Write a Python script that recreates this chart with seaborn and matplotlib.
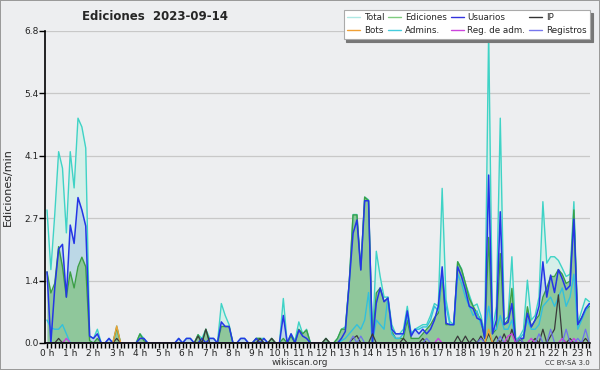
import numpy as np
import pandas as pd
import seaborn as sns
import matplotlib.pyplot as plt
from matplotlib.lines import Line2D
from matplotlib.ticker import FixedLocator, MultipleLocator

# Data: edits per minute, one value every 10 minutes (00:00 .. 23:20)
total = [
    2.9, 1.6, 2.8, 4.17, 3.81, 2.4,
    4.17, 3.38, 4.9, 4.71, 4.25, 0.15,
    0.1, 0.3, 0, 0, 0.1, 0,
    0.37, 0, 0, 0, 0, 0,
    0.2, 0.1, 0, 0, 0, 0,
    0, 0, 0, 0, 0.1, 0,
    0.1, 0.1, 0, 0.18, 0.1, 0.3,
    0.1, 0.1, 0, 0.86, 0.6, 0.4,
    0, 0, 0.1, 0.1, 0, 0,
    0.1, 0.1, 0.1, 0, 0.1, 0,
    0, 0.97, 0, 0.2, 0.05, 0.46,
    0.2, 0.3, 0, 0, 0, 0,
    0.1, 0, 0, 0.1, 0.3, 0.35,
    1.3, 2.8, 2.8, 1.62, 3.18, 3.12,
    0.05, 2.0, 1.45, 1.0, 1.0, 0.4,
    0.2, 0.2, 0.3, 0.8, 0.2, 0.3,
    0.35, 0.4, 0.4, 0.6, 0.86, 0.8,
    3.37, 0.94, 0.47, 0.4, 1.77, 1.62,
    1.3, 1.05, 0.8, 0.85, 0.6, 0.2,
    6.8, 0.28, 0.8, 4.9, 0.5, 0.57,
    1.88, 0.07, 0.14, 0.3, 1.37, 0.5,
    0.6, 1.0, 3.08, 1.74, 1.88, 1.88,
    1.8, 1.63, 1.45, 1.5, 3.08, 0.43,
    0.7, 0.97, 0.9,
]
ediciones = [
    1.55, 1.09, 1.3, 2.1, 1.66, 1.0,
    1.55, 1.2, 1.66, 1.87, 1.66, 0.05,
    0, 0.1, 0, 0, 0, 0,
    0.33, 0, 0, 0, 0, 0,
    0.2, 0.05, 0, 0, 0, 0,
    0, 0, 0, 0, 0, 0,
    0, 0, 0, 0.18, 0, 0.3,
    0, 0, 0, 0.36, 0.36, 0.36,
    0, 0, 0, 0, 0, 0,
    0.1, 0.1, 0, 0, 0.1, 0,
    0, 0.1, 0, 0.15, 0, 0.3,
    0.2, 0.28, 0, 0, 0, 0,
    0.1, 0, 0, 0.1, 0.3, 0.3,
    1.3, 2.79, 2.79, 1.6, 3.18, 3.1,
    0, 1.09, 1.2, 0.9, 0.98, 0.25,
    0.1, 0.1, 0.1, 0.5, 0.1, 0.1,
    0.1, 0.2, 0.3, 0.4, 0.55, 0.65,
    1.5, 0.4, 0.4, 0.4, 1.77, 1.6,
    1.3, 0.97, 0.8, 0.65, 0.5, 0.1,
    2.3, 0.2, 0.3, 1.95, 0.4, 0.5,
    1.19, 0, 0.05, 0.1, 0.79, 0.35,
    0.5, 0.6, 1.0, 1.2, 1.45, 1.45,
    1.6, 1.5, 1.3, 1.35, 2.9, 0.4,
    0.55, 0.72, 0.8,
]
usuarios = [
    1.55, 0.0, 1.2, 2.05, 2.15, 1.0,
    2.57, 2.17, 3.17, 2.9, 2.55, 0.15,
    0.1, 0.2, 0, 0, 0.1, 0,
    0, 0, 0, 0, 0, 0,
    0.1, 0.1, 0, 0, 0, 0,
    0, 0, 0, 0, 0.1, 0,
    0.1, 0.1, 0, 0, 0.1, 0,
    0.1, 0.1, 0, 0.46, 0.36, 0.36,
    0, 0, 0.1, 0.1, 0, 0,
    0.1, 0, 0.1, 0, 0, 0,
    0, 0.6, 0, 0.2, 0, 0.28,
    0.15, 0.1, 0, 0, 0, 0,
    0, 0, 0, 0, 0.1, 0.25,
    1.3, 2.39, 2.68, 1.59, 3.1, 3.1,
    0, 0.87, 1.2, 0.9, 0.98, 0.3,
    0.2, 0.2, 0.2, 0.7, 0.15, 0.3,
    0.2, 0.3, 0.2, 0.3, 0.5, 0.8,
    1.66, 0.43, 0.4, 0.4, 1.66, 1.45,
    1.16, 0.8, 0.75, 0.54, 0.5, 0.1,
    3.66, 0.2, 0.5, 2.86, 0.4, 0.45,
    0.86, 0, 0.1, 0.1, 0.65, 0.35,
    0.5, 0.8, 1.77, 1.0, 1.48, 1.1,
    1.6, 1.4, 1.16, 1.25, 2.7, 0.4,
    0.55, 0.75, 0.86,
]
admins = [
    0.5, 0.33, 0.3, 0.3, 0.4, 0.2,
    0, 0, 0, 0, 0, 0,
    0, 0, 0, 0, 0, 0,
    0, 0, 0, 0, 0, 0,
    0, 0, 0, 0, 0, 0,
    0, 0, 0, 0, 0, 0,
    0, 0, 0, 0, 0, 0,
    0, 0, 0, 0, 0, 0,
    0, 0, 0, 0, 0, 0,
    0, 0, 0, 0, 0, 0,
    0, 0, 0, 0, 0, 0,
    0, 0, 0, 0, 0, 0,
    0, 0, 0, 0, 0.05, 0.1,
    0.2, 0.3, 0.4, 0.3, 0.5, 1.1,
    0, 0.5, 0.4, 0.3, 1.0, 0.2,
    0.1, 0.1, 0.2, 0.6, 0.2, 0.3,
    0.3, 0.35, 0.35, 0.5, 0.8, 0.7,
    1.5, 0.8, 0.4, 0.4, 1.5, 1.3,
    1.0, 0.8, 0.6, 0.7, 0.4, 0.3,
    0.8, 0.3, 0.3, 0.6, 0.3, 0.3,
    0.5, 0, 0.1, 0.2, 0.5, 0.3,
    0.3, 0.4, 0.8, 0.9, 1.0, 0.8,
    1.0, 1.2, 0.8, 1.0, 1.5, 0.3,
    0.5, 0.7, 0.85,
]
# sparse series: (10-min slot, value)
ip_slot = [3, 18, 39, 41, 55, 58, 72, 79, 80, 84, 92, 97, 106, 108, 110, 112,
           114, 116, 118, 120, 122, 126, 128, 130, 131, 132, 133, 135, 139]
ip_val = [0.1, 0.1, 0.15, 0.3, 0.1, 0.1, 0.1, 0.1, 0.16, 0.2, 0.1, 0.1, 0.15, 0.15, 0.1, 0.15,
          0.2, 0.15, 0.2, 0.3, 0.1, 0.1, 0.3, 0.15, 0.3, 1.05, 0.1, 0.1, 0.1]
bots_slot = [18, 114]
bots_val = [0.37, 0.3]
regadm_slot = [5, 101, 119, 120, 125, 133, 136]
regadm_val = [0.1, 0.1, 0.15, 0.2, 0.1, 0.1, 0.1]
registros_slot = [79, 81, 98, 112, 117, 122, 127, 130, 134, 137, 139]
registros_val = [0.15, 0.15, 0.1, 0.1, 0.15, 0.1, 0.2, 0.3, 0.3, 0.1, 0.3]

legend_labels = ["Total", "Bots", "Ediciones", "Admins.", "Usuarios", "Reg. de adm.", "IP", "Registros"]

n = len(total)


def sparse(slots, vals):
    s = np.zeros(n)
    s[slots] = vals
    return s


df = pd.DataFrame({
    "hora": np.arange(n) / 6,
    "total": total,
    "ediciones": ediciones,
    "usuarios": usuarios,
    "admins": admins,
    "ip": sparse(ip_slot, ip_val),
    "bots": sparse(bots_slot, bots_val),
    "regadm": sparse(regadm_slot, regadm_val),
    "registros": sparse(registros_slot, registros_val),
})

BG = "#edeef0"
sns.set_style("white")
plt.rcParams["font.family"] = ["DejaVu Sans"]

fig = plt.figure(figsize=(6, 3.7), dpi=100, facecolor=BG, edgecolor="#9a9a9a", linewidth=1.2)
ax = fig.add_axes([45 / 600, 27 / 370, 545 / 600, 312 / 370])
ax.set_facecolor(BG)

# areas
ax.fill_between(df["hora"], df["total"], color="#d6efe9", lw=0)
ax.fill_between(df["hora"], df["usuarios"], color="#bcd8e6", lw=0)
ax.fill_between(df["hora"], df["ediciones"], color="#8fc79b", lw=0)

# lines
series = [
    ("total", "#3fd3c6", 1.0),
    ("ediciones", "#3c9f45", 1.0),
    ("admins", "#33c0dc", 1.0),
    ("usuarios", "#2536e6", 1.1),
    ("ip", "#3a3a3a", 0.9),
    ("bots", "#f0a035", 1.0),
    ("regadm", "#c843dc", 1.0),
    ("registros", "#6f73ec", 0.9),
]
for col, c, lw in series:
    sns.lineplot(data=df, x="hora", y=col, ax=ax, color=c, linewidth=lw, legend=False)

ax.set_xlim(-0.086, 23.36)
ax.set_ylim(0, 6.8)

ymaj = [0, 1.36, 2.72, 4.08, 5.44, 6.8]
ax.yaxis.set_major_locator(FixedLocator(ymaj))
ax.set_yticklabels([f"{v:.1f}" for v in ymaj])
ax.yaxis.set_minor_locator(MultipleLocator(0.34))
ax.xaxis.set_major_locator(FixedLocator(list(range(24))))
ax.set_xticklabels([f"{h} h" for h in range(24)])
ax.xaxis.set_minor_locator(MultipleLocator(1 / 6))
ax.tick_params(axis="both", which="both", direction="out", color="black", width=1,
               labelsize=6.5, labelcolor="#222222", pad=0.5)
ax.tick_params(axis="y", which="major", length=4)
ax.tick_params(axis="y", which="minor", length=3)
ax.tick_params(axis="x", which="both", length=3.5, bottom=True)
ax.tick_params(axis="y", left=True)

ax.grid(axis="y", color="#c8c8c8", linewidth=0.9)
ax.set_axisbelow(True)
for s in ["top", "right"]:
    ax.spines[s].set_visible(False)
for s in ["left", "bottom"]:
    ax.spines[s].set_color("black")
    ax.spines[s].set_linewidth(1.2)

ax.set_xlabel("")
ax.set_ylabel("Ediciones/min", fontsize=8, labelpad=8)

fig.text(0.258, 0.955, "Ediciones  2023-09-14", ha="center", va="center",
         fontsize=8.5, fontweight="bold")
fig.text(0.5, 0.019, "wikiscan.org", ha="center", va="center", fontsize=6.5, color="#333333")
fig.text(0.983, 0.019, "CC BY-SA 3.0", ha="right", va="center", fontsize=5, color="#333333")

# legend
leg_colors = ["#aee8e4", "#f0a035", "#7fcc7f", "#44ccdd", "#3333dd", "#cc44dd", "#333333", "#7777ee"]
handles = [Line2D([0], [0], color=c, lw=1) for c in leg_colors]
leg = fig.legend(handles, legend_labels, ncol=4, loc="upper right",
                 bbox_to_anchor=(0.983, 0.973), fontsize=6.3, frameon=True,
                 fancybox=False, shadow={"color": "#777777", "alpha": 1},
                 handlelength=1.5, handletextpad=0.4, columnspacing=0.45,
                 labelspacing=0.45, borderpad=0.4, borderaxespad=0)
leg.get_frame().set_edgecolor("#aaaaaa")
leg.get_frame().set_linewidth(0.8)

fig.savefig("out.png", dpi=100, facecolor=BG, edgecolor=fig.get_edgecolor())
